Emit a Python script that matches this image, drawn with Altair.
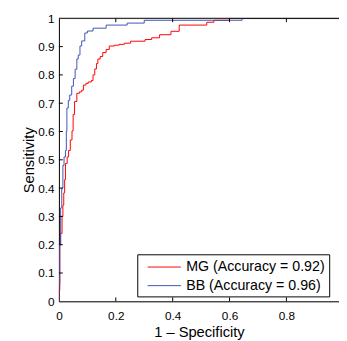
import altair as alt
import pandas as pd

# ROC curve readings
mg_x = [0, 0, 0.003, 0.006, 0.011, 0.014, 0.017, 0.02, 0.023, 0.029,
        0.034, 0.04, 0.046, 0.05, 0.055, 0.063, 0.072, 0.08, 0.086, 0.095,
        0.103, 0.114, 0.12, 0.126, 0.132, 0.137, 0.145, 0.154, 0.166, 0.177,
        0.195, 0.212, 0.23, 0.252, 0.303, 0.326, 0.354, 0.394, 0.423, 0.52,
        0.545, 0.60, 1.0]
mg_y = [0, 0.038, 0.2, 0.24, 0.3, 0.34, 0.383, 0.43, 0.487, 0.51,
        0.533, 0.57, 0.602, 0.66, 0.706, 0.735, 0.74, 0.746, 0.764, 0.77,
        0.775, 0.78, 0.80, 0.821, 0.84, 0.856, 0.865, 0.879, 0.89, 0.902,
        0.905, 0.908, 0.912, 0.919, 0.925, 0.931, 0.942, 0.954, 0.976, 0.986,
        0.993, 1.0, 1.0]
bb_x = [0, 0, 0.003, 0.006, 0.01, 0.014, 0.018, 0.023, 0.026, 0.028,
        0.033, 0.038, 0.045, 0.051, 0.057, 0.063, 0.068, 0.074, 0.08, 0.091,
        0.1, 0.12, 0.166, 0.24, 0.30, 0.644, 1.0]
bb_y = [0, 0.06, 0.2, 0.33, 0.4, 0.48, 0.51, 0.533, 0.6, 0.683,
        0.71, 0.729, 0.76, 0.787, 0.82, 0.856, 0.87, 0.902, 0.92, 0.948,
        0.955, 0.965, 0.976, 0.983, 0.993, 1.0, 1.0]
series_names = ["MG (Accuracy = 0.92)", "BB (Accuracy = 0.96)"]
series_colors = ["#ff0000", "#3a55b4"]
x_ticks = [0, 0.2, 0.4, 0.6, 0.8]
y_ticks = [0, 0.1, 0.2, 0.3, 0.4, 0.5, 0.6, 0.7, 0.8, 0.9, 1]
x_inner_ticks = [0.2, 0.4, 0.6, 0.8]
y_inner_ticks = [0.1, 0.2, 0.3, 0.4, 0.5, 0.6, 0.7, 0.8, 0.9]

W, H = 286, 289
FONT = "Liberation Sans"

rows = []
for i, (xs, ys) in enumerate([(mg_x, mg_y), (bb_x, bb_y)]):
    for k, (a, b) in enumerate(zip(xs, ys)):
        rows.append({"fpr": a, "tpr": b, "series": series_names[i], "order": k})
df = pd.DataFrame(rows)

xscale = alt.Scale(domain=[0, 0.985], nice=False, zero=False)
yscale = alt.Scale(domain=[0, 1], nice=False)

xaxis = alt.Axis(title="1 – Specificity", values=x_ticks, format="~g",
                 ticks=False, labelPadding=10, titlePadding=3,
                 grid=False, domainColor="black", labelColor="black",
                 labelFontSize=12, titleFontSize=15, labelFont=FONT, titleFont=FONT,
                 titleFontWeight="normal", titleColor="black", labelFlush=False,
                 labelOverlap=False)
yaxis = alt.Axis(title="Sensitivity", values=y_ticks, format="~g",
                 ticks=False, labelPadding=5, titlePadding=1,
                 grid=False, domainColor="black", labelColor="black",
                 labelFontSize=12, titleFontSize=15, labelFont=FONT, titleFont=FONT,
                 titleFontWeight="normal", titleColor="black", labelFlush=False,
                 labelOverlap=False)

lines = alt.Chart(df).mark_line(strokeWidth=1, interpolate="step-after", clip=True).encode(
    x=alt.X("fpr:Q", scale=xscale, axis=xaxis),
    y=alt.Y("tpr:Q", scale=yscale, axis=yaxis),
    color=alt.Color("series:N", sort=series_names,
                    scale=alt.Scale(domain=series_names, range=series_colors),
                    legend=alt.Legend(title=None, orient="none", legendX=80, legendY=241,
                                      symbolType="M-0.29,0H3.71", symbolSize=289, symbolStrokeWidth=1,
                                      labelFontSize=14.5, labelFont=FONT, labelColor="black",
                                      strokeColor="black", fillColor="white", padding=4,
                                      rowPadding=3, labelOffset=28)),
    order="order:Q",
)

xt = pd.DataFrame({"t": x_inner_ticks})
yt = pd.DataFrame({"t": y_inner_ticks})
tick_bottom = alt.Chart(xt).mark_rule(color="black", strokeWidth=1).encode(
    x=alt.X("t:Q", scale=xscale, axis=xaxis), y=alt.value(H), y2=alt.value(H - 4))
tick_top = alt.Chart(xt).mark_rule(color="black", strokeWidth=1).encode(
    x=alt.X("t:Q", scale=xscale, axis=xaxis), y=alt.value(0), y2=alt.value(4))
tick_left = alt.Chart(yt).mark_rule(color="black", strokeWidth=1).encode(
    y=alt.Y("t:Q", scale=yscale, axis=yaxis), x=alt.value(0), x2=alt.value(4))
top_border = alt.Chart(pd.DataFrame({"a": [0]})).mark_rule(color="black", strokeWidth=1).encode(
    x=alt.value(0), x2=alt.value(W), y=alt.value(0))

chart = alt.layer(lines, tick_bottom, tick_top, tick_left, top_border).properties(
    width=W, height=H,
    autosize=alt.AutoSizeParams(type="none"),
    padding={"left": 52, "top": 7, "right": 0, "bottom": 36},
).configure_view(stroke=None).configure(background="white")

chart.save("out.html", embed_options={"renderer": "svg", "actions": False})
